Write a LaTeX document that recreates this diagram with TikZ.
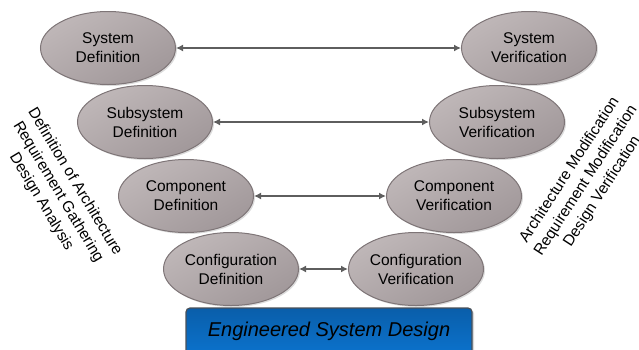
\documentclass[tikz,border=0pt]{standalone}
\usepackage{fontspec}
\setmainfont{Liberation Sans}
\usetikzlibrary{shapes.geometric,shadows,arrows.meta}
\definecolor{ellTop}{HTML}{BFB7B8}
\definecolor{ellBot}{HTML}{A1989A}
\definecolor{ellLine}{HTML}{7E7577}
\definecolor{arrowGray}{HTML}{5E5E5E}
\definecolor{boxTop}{HTML}{0A5EAA}
\definecolor{boxBot}{HTML}{0B72CC}
\definecolor{boxLine}{HTML}{4A5058}
\tikzset{
  stage/.style={ellipse, draw=ellLine, line width=1pt,
    top color=ellTop, bottom color=ellBot, shading angle=30,
    minimum width=135pt, minimum height=73pt, inner sep=0pt,
    align=center, font=\fontsize{15.5}{19}\selectfont,
    drop shadow={shadow xshift=1.5pt, shadow yshift=-1.5pt, opacity=0.3, fill=black!45}},
  link/.style={draw=arrowGray, line width=2.4pt,
    {Latex[length=7pt,width=7pt]}-{Latex[length=7pt,width=7pt]}},
  note/.style={align=center, font=\fontsize{15.5}{19.5}\selectfont},
  banner/.style={rectangle, rounded corners=4pt, draw=boxLine, line width=1.2pt,
    top color=boxTop, bottom color=boxBot,
    minimum width=286pt, minimum height=46pt, inner sep=0pt,
    font=\fontsize{20}{24}\selectfont\itshape,
    drop shadow={shadow xshift=2pt, shadow yshift=-1.5pt, opacity=0.3, fill=black!50}}
}
\begin{document}
\begin{tikzpicture}[x=1pt,y=-1pt]
\useasboundingbox (0,0) rectangle (639,349);

% left leg: definition stages
\node[stage] (sd)  at (108,48)  {System\\Definition};
\node[stage] (ssd) at (145,122) {Subsystem\\Definition};
\node[stage] (cd)  at (186,196) {Component\\Definition};
\node[stage] (gd)  at (231,269) {Configuration\\Definition};

% right leg: verification stages
\node[stage] (sv)  at (529,48)  {System\\Verification};
\node[stage] (ssv) at (497,122) {Subsystem\\Verification};
\node[stage] (cv)  at (454,196) {Component\\Verification};
\node[stage] (gv)  at (416,269) {Configuration\\Verification};

% links between matching levels
\draw[link] (sd)  -- (sv);
\draw[link] (ssd) -- (ssv);
\draw[link] (cd)  -- (cv);
\draw[link] (gd)  -- (gv);

% base of the V
\node[banner] (esd) at (329,331) {\raisebox{1pt}{Engineered System Design}};

% side annotations
\node[note, rotate=-59] (lnote) at (58,192)
  {Definition of Architecture\\Requirement Gathering\\Design Analysis};
\node[note, rotate=57] (rnote) at (586,181)
  {Architecture Modification\\Requirement Modification\\Design Verification};
\end{tikzpicture}
\end{document}
